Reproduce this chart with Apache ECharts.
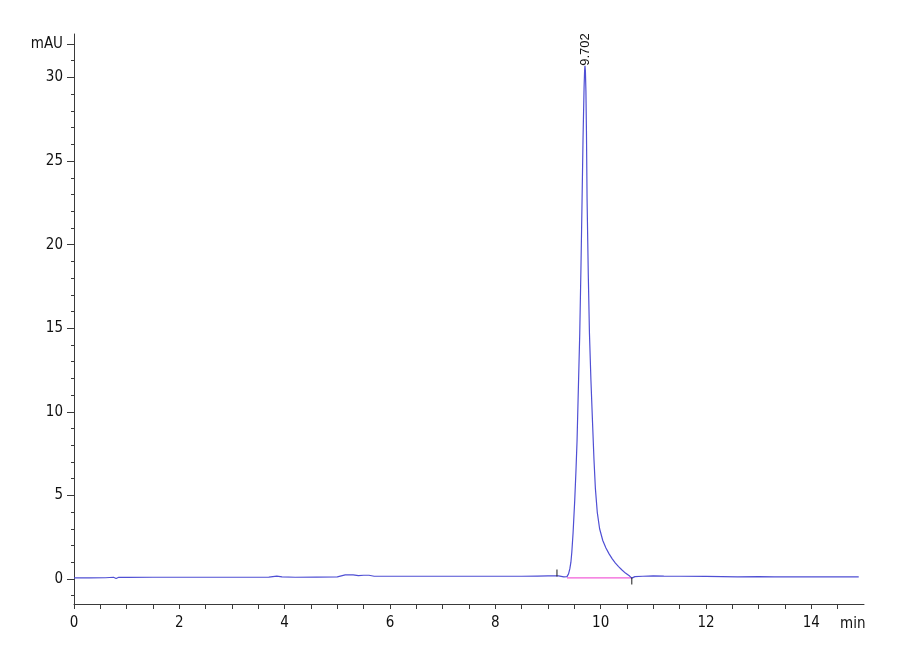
<!DOCTYPE html>
<html>
<head>
<meta charset="utf-8">
<script src="https://cdn.jsdelivr.net/npm/echarts@6/dist/echarts.min.js"></script>
<style>
html,body{margin:0;padding:0;background:#fff;}
#chart{width:900px;height:660px;}
</style>
</head>
<body>
<div id="chart"></div>
<script>
// retention time (min) and absorbance (mAU)
const times = [
  0.0, 0.3, 0.6, 0.75, 0.8, 0.85, 1.0, 1.5, 2.0, 2.5, 3.0, 3.5, 3.7, 3.85, 3.95, 4.2, 4.6,
  5.0, 5.15, 5.3, 5.4, 5.5, 5.6, 5.7, 6.0, 6.5, 7.0, 7.5, 8.0, 8.5, 8.8, 9.0, 9.2,
  9.30, 9.36, 9.39, 9.414, 9.435, 9.452, 9.476, 9.508, 9.53, 9.552, 9.571, 9.603, 9.625,
  9.647, 9.665, 9.685, 9.695, 9.702, 9.71, 9.72, 9.73, 9.742, 9.765, 9.787, 9.815, 9.845, 9.872, 9.9,
  9.935, 9.98, 10.04, 10.1, 10.16, 10.22, 10.28, 10.34, 10.4, 10.47, 10.55, 10.59,
  10.65, 10.8, 11.0, 11.2, 11.5, 12.0, 12.3, 12.6, 13.0, 13.3, 13.6, 14.0, 14.5, 14.9
];
const absorbance = [
  0.06, 0.06, 0.07, 0.1, 0.03, 0.1, 0.09, 0.1, 0.1, 0.1, 0.1, 0.1, 0.11, 0.17, 0.12, 0.1, 0.11,
  0.12, 0.24, 0.24, 0.2, 0.22, 0.22, 0.16, 0.16, 0.16, 0.16, 0.16, 0.16, 0.16, 0.17, 0.18, 0.18,
  0.12, 0.14, 0.3, 0.6, 1.0, 1.6, 2.75, 4.73, 6.4, 8.3, 10.7, 14.7, 18.5,
  22.7, 26.3, 29.4, 30.4, 30.7, 30.4, 29.2, 26.8, 22.7, 18.2, 14.7, 11.9, 9.4, 7.2, 5.4,
  4.0, 3.0, 2.3, 1.85, 1.5, 1.2, 0.95, 0.74, 0.55, 0.35, 0.17, 0.05,
  0.14, 0.16, 0.18, 0.17, 0.16, 0.15, 0.14, 0.12, 0.14, 0.12, 0.13, 0.12, 0.13, 0.12
];
// integration baseline under the peak
const baselineTimes = [9.36, 10.59];
const baselineValues = [0.06, 0.06];
// integration start / end markers
const markerTimes = [9.17, 10.59];
const markerValues = [0.18, 0.05];
// peak annotation
const peakTime = 9.702;
const peakHeight = 30.7;
const peakLabel = '9.702';
// axis ticks
const xLabelValues = [0, 2, 4, 6, 8, 10, 12, 14];
const xTickValues = [0,0.5,1,1.5,2,2.5,3,3.5,4,4.5,5,5.5,6,6.5,7,7.5,8,8.5,9,9.5,10,10.5,11,11.5,12,12.5,13,13.5,14,14.5];
const yLabelValues = [0, 5, 10, 15, 20, 25, 30, 32];
const yMinorValues = [-1,1,2,3,4,6,7,8,9,11,12,13,14,16,17,18,19,21,22,23,24,26,27,28,29,31];
const yUnit = 'mAU';
const xUnit = 'min';

const FONT = '"Liberation Sans Narrow", "DejaVu Sans Condensed", "Liberation Sans", Arial, sans-serif';
const axisColor = '#3a3a3a';

const chart = echarts.init(document.getElementById('chart'), null, {renderer: 'canvas'});
const grid = {left: 74, right: 36, top: 34, bottom: 56};

chart.setOption({
  animation: false,
  backgroundColor: '#ffffff',
  grid: grid,
  xAxis: [{
    type: 'value', min: 0, max: 15,
    name: xUnit, nameLocation: 'end', nameGap: -24,
    nameTextStyle: {fontFamily: FONT, fontSize: 15, color: '#111', verticalAlign: 'top', padding: [13, 0, 0, 0]},
    axisLine: {show: true, onZero: false, lineStyle: {color: axisColor, width: 1}},
    axisTick: {show: true, customValues: xTickValues, length: 5, lineStyle: {color: axisColor}},
    axisLabel: {customValues: xLabelValues, fontFamily: FONT, fontSize: 15, color: '#111', margin: 12},
    splitLine: {show: false}
  }],
  yAxis: [{
    type: 'value', min: -1.5, max: 32.6,
    axisLine: {show: true, onZero: false, lineStyle: {color: axisColor, width: 1}},
    axisTick: {show: true, customValues: yLabelValues, length: 7, lineStyle: {color: axisColor}},
    axisLabel: {
      customValues: yLabelValues, fontFamily: FONT, fontSize: 15, color: '#111', margin: 11,
      formatter: function (v) { return v === 32 ? yUnit : String(v); }
    },
    splitLine: {show: false}
  }, {
    type: 'value', min: -1.5, max: 32.6, position: 'left',
    axisLine: {show: false},
    axisTick: {show: true, customValues: yMinorValues, length: 3, lineStyle: {color: axisColor}},
    axisLabel: {show: false},
    splitLine: {show: false}
  }],
  series: [{
    type: 'line',
    data: baselineTimes.map((t, i) => [t, baselineValues[i]]),
    symbol: 'none',
    lineStyle: {color: '#f25fd8', width: 1.3},
    z: 2
  }, {
    type: 'line',
    data: times.map((t, i) => [t, absorbance[i]]),
    symbol: 'none',
    smooth: false,
    lineStyle: {color: '#4f4fd4', width: 1.2},
    z: 3,
    markPoint: {
      symbol: 'circle', symbolSize: 0,
      data: [{coord: [peakTime, peakHeight], value: peakLabel}],
      label: {
        show: true, formatter: peakLabel, position: 'top', distance: 0,
        rotate: 90, align: 'left', verticalAlign: 'middle',
        fontFamily: '"Liberation Sans", Arial, sans-serif', fontSize: 13, color: '#111'
      }
    }
  }, {
    type: 'scatter',
    data: [[markerTimes[0], markerValues[0]]],
    symbol: 'rect', symbolSize: [1.3, 7], symbolOffset: [0, -3],
    itemStyle: {color: '#222'},
    z: 4
  }, {
    type: 'scatter',
    data: [[markerTimes[1], markerValues[1]]],
    symbol: 'rect', symbolSize: [1.3, 7], symbolOffset: [0, 3],
    itemStyle: {color: '#222'},
    z: 4
  }]
});
</script>
</body>
</html>
